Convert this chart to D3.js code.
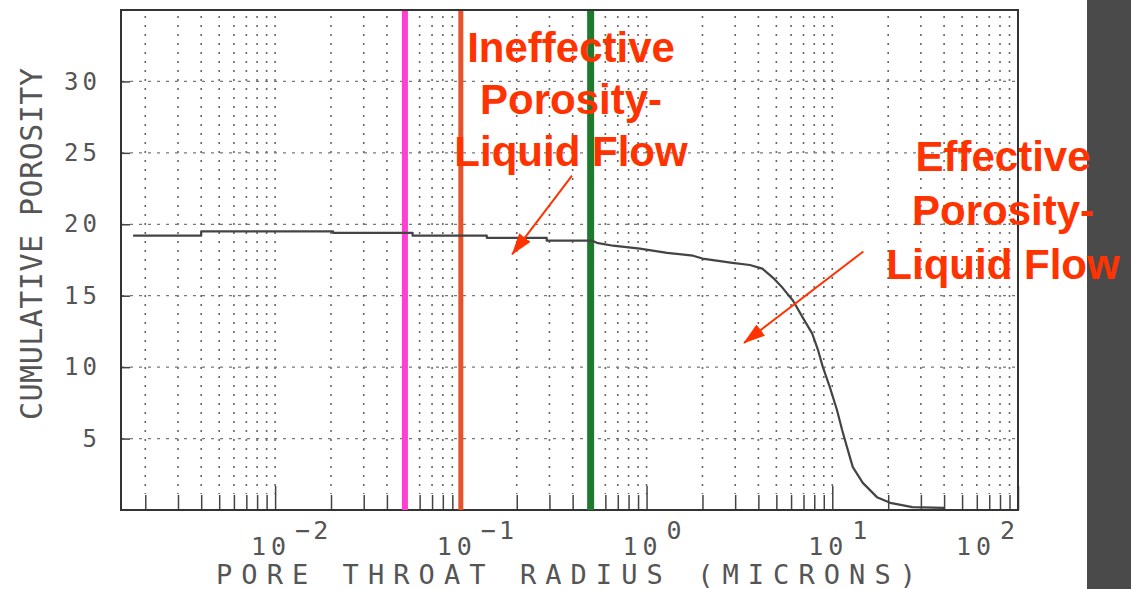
<!DOCTYPE html>
<html>
<head>
<meta charset="utf-8">
<script src="https://cdn.jsdelivr.net/npm/d3@7"></script>
<style>
body { margin: 0; background: #fff; overflow: hidden; }
svg { display: block; }
.mono { font-family: "DejaVu Sans Mono", monospace; fill: #555; }
.note { font-family: "Liberation Sans", Arial, sans-serif; font-weight: bold; font-size: 42px; fill: #ff3300; }
</style>
</head>
<body>
<script>
// pore throat radius (microns) vs cumulative porosity
var radius = [0.00172, 0.0040, 0.0040, 0.0205, 0.0205, 0.055, 0.055, 0.138, 0.138, 0.29, 0.29,
  0.51, 0.54, 0.66, 0.92, 1.29, 1.78, 2.0, 2.9, 3.6, 4.2, 4.8, 5.4, 6.15, 6.95, 7.8, 8.4, 8.9,
  9.7, 10.6, 11.3, 12.0, 12.9, 14.6, 17.4, 20.5, 27, 40];
var porosity = [19.2, 19.2, 19.5, 19.5, 19.4, 19.4, 19.2, 19.2, 19.05, 19.05, 18.85,
  18.85, 18.7, 18.5, 18.3, 18.0, 17.8, 17.6, 17.3, 17.15, 16.9, 16.25, 15.55, 14.65, 13.45, 12.35, 11.15, 10.0,
  8.6, 7.0, 5.6, 4.4, 3.0, 1.9, 0.9, 0.5, 0.2, 0.15];

// cutoff radii drawn as coloured vertical lines
var cutoffs = [0.05, 0.1, 0.5];
var cutoffColors = ['#ff3fd0', '#e5532b', '#1e7a2d'];
var cutoffWidths = [6, 5, 7];

// axis ticks
var yTicks = [5, 10, 15, 20, 25, 30];
var xMajor = [0.01, 0.1, 1, 10, 100];
var xExp = ['\u22122', '\u22121', '0', '1', '2'];

// annotation labels
var ineffLines = ['Ineffective', 'Porosity-', 'Liquid Flow'];
var effLines = ['Effective', 'Porosity-', 'Liquid Flow'];

var width = 1131, height = 589;
// plot box (note: "top" is reserved on window, so use a prefix)
var pLeft = 121, pRight = 1018, pTop = 10, pBottom = 510;

var svg = d3.select('body').append('svg')
  .attr('width', width)
  .attr('height', height);

var x = d3.scaleLog().domain([0.00148, 100]).range([pLeft, pRight]);
var y = d3.scaleLinear().domain([0, 35]).range([pBottom, pTop]);

// every 1..9 x 10^n inside the domain
var xMinor = [];
for (var d = -3; d <= 2; d++) {
  for (var k = 1; k <= 9; k++) {
    var v = k * Math.pow(10, d);
    if (v >= x.domain()[0] && v <= 100.0001) xMinor.push(v);
  }
}

// dark strip on the right of the slide
svg.append('rect')
  .attr('x', 1087).attr('y', 0)
  .attr('width', width - 1087).attr('height', height)
  .attr('fill', '#4a4a4a');

// dotted grid
svg.append('g').selectAll('line')
  .data(xMinor.filter(function(v) { return v < 99; }))
  .enter().append('line')
  .attr('x1', function(v) { return x(v); })
  .attr('x2', function(v) { return x(v); })
  .attr('y1', pTop + 6).attr('y2', pBottom - 16)
  .attr('stroke', '#666')
  .attr('stroke-width', 1.6)
  .attr('stroke-dasharray', '2,7');

svg.append('g').selectAll('line')
  .data(yTicks)
  .enter().append('line')
  .attr('x1', pLeft).attr('x2', pRight)
  .attr('y1', function(v) { return y(v); })
  .attr('y2', function(v) { return y(v); })
  .attr('stroke', '#777')
  .attr('stroke-width', 1.3)
  .attr('stroke-dasharray', '3,6');

// bottom ticks, pointing inward
var xAxis = svg.append('g')
  .attr('transform', 'translate(0,' + pBottom + ')')
  .call(d3.axisBottom(x)
    .tickValues(xMinor)
    .tickSizeInner(-15)
    .tickSizeOuter(0)
    .tickFormat(''));
xAxis.select('.domain').remove();
xAxis.selectAll('.tick line')
  .attr('stroke', '#444')
  .attr('stroke-width', 1.5)
  .attr('y2', function(v) { return xMajor.indexOf(v) >= 0 ? -24 : -15; });

// left ticks + labels
var yAxis = svg.append('g')
  .attr('transform', 'translate(' + pLeft + ',0)')
  .call(d3.axisLeft(y)
    .tickValues(yTicks)
    .tickSizeInner(-9)
    .tickSizeOuter(0)
    .tickPadding(20));
yAxis.select('.domain').remove();
yAxis.selectAll('.tick line').attr('stroke', '#444').attr('stroke-width', 1.5);
yAxis.selectAll('.tick text')
  .attr('class', 'mono')
  .attr('fill', null)
  .style('font-size', '24px')
  .style('letter-spacing', '4px');

// frame
svg.append('rect')
  .attr('x', pLeft).attr('y', pTop)
  .attr('width', pRight - pLeft).attr('height', pBottom - pTop)
  .attr('fill', 'none')
  .attr('stroke', '#333')
  .attr('stroke-width', 2);

// cutoff lines
svg.append('g').selectAll('line')
  .data(cutoffs)
  .enter().append('line')
  .attr('x1', function(v) { return x(v); })
  .attr('x2', function(v) { return x(v); })
  .attr('y1', pTop + 1).attr('y2', pBottom)
  .attr('stroke', function(v, i) { return cutoffColors[i]; })
  .attr('stroke-width', function(v, i) { return cutoffWidths[i]; });

// the curve
var line = d3.line()
  .x(function(d) { return x(d[0]); })
  .y(function(d) { return y(d[1]); });

svg.append('path')
  .datum(d3.zip(radius, porosity))
  .attr('d', line)
  .attr('fill', 'none')
  .attr('stroke', '#444')
  .attr('stroke-width', 2.2)
  .attr('stroke-linejoin', 'round');

// x labels: 10 with exponent
var xl = svg.append('g').selectAll('g')
  .data(xMajor)
  .enter().append('g')
  .attr('transform', function(v, i) {
    var cx = x(v) - 4 - (i === xMajor.length - 1 ? 38 : 0);
    return 'translate(' + cx + ',0)';
  });
xl.append('text')
  .attr('class', 'mono')
  .attr('y', 555)
  .attr('text-anchor', 'middle')
  .style('font-size', '25px')
  .style('letter-spacing', '5px')
  .text('10');
xl.append('text')
  .attr('class', 'mono')
  .attr('x', 24)
  .attr('y', 539)
  .style('font-size', '25px')
  .style('letter-spacing', '3px')
  .text(function(v, i) { return xExp[i]; });

// axis titles
svg.append('text')
  .attr('class', 'mono')
  .attr('x', 216).attr('y', 584)
  .attr('textLength', 700)
  .attr('lengthAdjust', 'spacing')
  .style('font-size', '27px')
  .text('PORE THROAT RADIUS (MICRONS)');

svg.append('text')
  .attr('class', 'mono')
  .attr('transform', 'translate(42,420) rotate(-90)')
  .attr('textLength', 352)
  .attr('lengthAdjust', 'spacing')
  .style('font-size', '30px')
  .text('CUMULATIVE POROSITY');

// annotations
var defs = svg.append('defs');
defs.append('marker')
  .attr('id', 'head')
  .attr('markerUnits', 'userSpaceOnUse')
  .attr('markerWidth', 22).attr('markerHeight', 14)
  .attr('refX', 21).attr('refY', 7)
  .attr('orient', 'auto')
  .append('path')
  .attr('d', 'M0,0L22,7L0,14Z')
  .attr('fill', '#ff3300');

var arrows = [
  [[0.397, 23.4], [0.189, 17.9]],
  [[14.7, 18.1], [3.35, 11.7]]
];
svg.append('g').selectAll('line')
  .data(arrows)
  .enter().append('line')
  .attr('x1', function(a) { return x(a[0][0]); })
  .attr('y1', function(a) { return y(a[0][1]); })
  .attr('x2', function(a) { return x(a[1][0]); })
  .attr('y2', function(a) { return y(a[1][1]); })
  .attr('stroke', '#ff3300')
  .attr('stroke-width', 2)
  .attr('marker-end', 'url(#head)');

svg.append('g').selectAll('text')
  .data(ineffLines)
  .enter().append('text')
  .attr('class', 'note')
  .attr('text-anchor', 'middle')
  .attr('x', 571)
  .attr('y', function(t, i) { return 62 + i * 52; })
  .text(function(t) { return t; });

svg.append('g').selectAll('text')
  .data(effLines)
  .enter().append('text')
  .attr('class', 'note')
  .attr('text-anchor', 'middle')
  .attr('x', 1003)
  .attr('y', function(t, i) { return 171 + i * 54; })
  .text(function(t) { return t; });
</script>
</body>
</html>
